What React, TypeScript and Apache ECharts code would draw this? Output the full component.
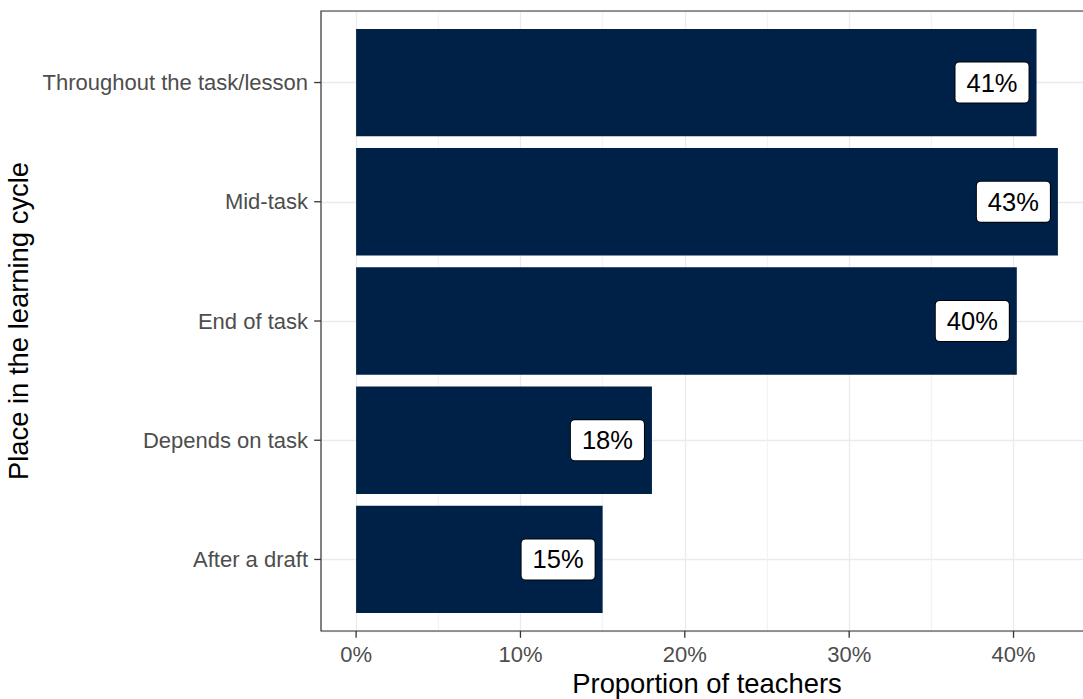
import React, { useEffect, useRef } from 'react';
import * as echarts from 'echarts';

// ---- data ----
const CATEGORIES = ['After a draft', 'Depends on task', 'End of task', 'Mid-task', 'Throughout the task/lesson'];
const VALUES = [15.0, 18.0, 40.2, 42.7, 41.4];
const X_TICKS = [0, 10, 20, 30, 40];
const X_TITLE = 'Proportion of teachers';
const Y_TITLE = 'Place in the learning cycle';

const FONT = '"Liberation Sans", Arial, Helvetica, sans-serif';
const BAR_COLOR = '#002147';

const maxV = Math.max(...VALUES);
const X_MIN = -0.05 * maxV;
const X_MAX = 1.05 * maxV;
const Y_MIN = 0.4;
const Y_MAX = CATEGORIES.length + 0.6;

export default function App() {
  const ref = useRef<HTMLDivElement>(null);
  useEffect(() => {
    if (!ref.current) return;
    const chart = echarts.init(ref.current, undefined, { renderer: 'svg' });
    const barData = VALUES.map((v, i) => [v, i + 1]);
    const option: any = {
      animation: false,
      backgroundColor: '#ffffff',
      grid: {
        left: 321,
        top: 11,
        width: 772,
        height: 620,
        containLabel: false,
        outerBoundsMode: 'none',
        show: false,
      },
      xAxis: {
        type: 'value',
        min: X_MIN,
        max: X_MAX,
        splitNumber: 10,
        minInterval: 5,
        maxInterval: 5,
        axisLine: { show: false },
        axisTick: { show: false },
        axisLabel: {
          color: '#4D4D4D',
          fontSize: 22,
          fontFamily: FONT,
          margin: 12,
          formatter: (v: number) => {
            const r = Math.round(v);
            if (Math.abs(v - r) < 1e-6 && r % 10 === 0 && r >= 0) return r + '%';
            return '';
          },
        },
        splitLine: { show: true, lineStyle: { color: ['#F3F3F3', '#EBEBEB'], width: 1.3 } },
        name: X_TITLE,
        nameLocation: 'middle',
        nameGap: 39,
        nameTextStyle: { color: '#000000', fontSize: 27.4, fontFamily: FONT },
      },
      yAxis: {
        type: 'value',
        min: Y_MIN,
        max: Y_MAX,
        splitNumber: 5,
        minInterval: 1,
        maxInterval: 1,
        axisLine: { show: false },
        axisTick: { show: false },
        axisLabel: {
          color: '#4D4D4D',
          fontSize: 22,
          fontFamily: FONT,
          margin: 13,
          formatter: (v: number) => {
            const r = Math.round(v);
            if (Math.abs(v - r) < 1e-6 && r >= 1 && r <= CATEGORIES.length) return CATEGORIES[r - 1];
            return '';
          },
        },
        splitLine: { show: true, lineStyle: { color: '#EBEBEB', width: 1.3 } },
        name: Y_TITLE,
        nameLocation: 'middle',
        nameGap: 283,
        nameRotate: 90,
        nameTextStyle: { color: '#000000', fontSize: 27.4, fontFamily: FONT },
      },
      series: [
        {
          type: 'custom',
          name: 'bars',
          z: 2,
          data: barData,
          encode: { x: 0, y: 1 },
          renderItem: (params: any, api: any) => {
            const v = api.value(0);
            const y = api.value(1);
            const s = api.coord([0, y]);
            const e = api.coord([v, y]);
            const h = api.size([0, 0.9])[1];
            return {
              type: 'rect',
              shape: { x: s[0], y: s[1] - h / 2, width: e[0] - s[0], height: h },
              style: { fill: BAR_COLOR },
            };
          },
        },
        {
          type: 'custom',
          name: 'labels',
          z: 5,
          data: barData,
          encode: { x: 0, y: 1 },
          renderItem: (params: any, api: any) => {
            const v = api.value(0);
            const y = api.value(1);
            const e = api.coord([v, y]);
            return {
              type: 'text',
              x: e[0] - 8,
              y: e[1],
              style: {
                text: Math.round(v) + '%',
                align: 'right',
                verticalAlign: 'middle',
                font: '25.5px ' + FONT,
                lineHeight: 26,
                fill: '#000000',
                backgroundColor: '#ffffff',
                borderColor: '#000000',
                borderWidth: 1,
                borderRadius: 4,
                padding: [7, 11, 7, 11],
              },
            };
          },
        },
        {
          type: 'custom',
          name: 'xticks',
          z: 6,
          clip: false,
          data: X_TICKS.map((t) => [t, Y_MIN]),
          encode: { x: 0, y: 1 },
          renderItem: (params: any, api: any) => {
            const p = api.coord([api.value(0), Y_MIN]);
            return {
              type: 'line',
              shape: { x1: p[0], y1: p[1], x2: p[0], y2: p[1] + 6.8 },
              style: { stroke: '#333333', lineWidth: 1.3 },
            };
          },
        },
        {
          type: 'custom',
          name: 'yticks',
          z: 6,
          clip: false,
          data: CATEGORIES.map((_, i) => [X_MIN, i + 1]),
          encode: { x: 0, y: 1 },
          renderItem: (params: any, api: any) => {
            const p = api.coord([X_MIN, api.value(1)]);
            return {
              type: 'line',
              shape: { x1: p[0] - 6.8, y1: p[1], x2: p[0], y2: p[1] },
              style: { stroke: '#333333', lineWidth: 1.3 },
            };
          },
        },
        {
          type: 'custom',
          name: 'panel',
          z: 7,
          clip: false,
          data: [[X_MIN, Y_MIN]],
          encode: { x: 0, y: 1 },
          renderItem: (params: any, api: any) => {
            const cs = params.coordSys;
            return {
              type: 'rect',
              shape: { x: cs.x, y: cs.y, width: cs.width, height: cs.height },
              style: { fill: 'none', stroke: '#333333', lineWidth: 1.2 },
            };
          },
        },
      ],
    };
    chart.setOption(option);
    return () => chart.dispose();
  }, []);
  return (
    <div
      ref={ref}
      style={{ position: 'absolute', left: 0, top: 0, width: 1083, height: 699 }}
    />
  );
}
